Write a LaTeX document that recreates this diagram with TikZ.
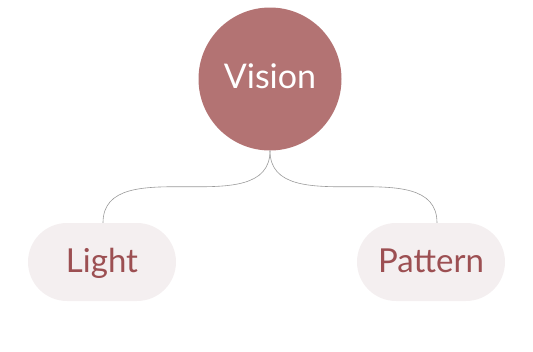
\documentclass[tikz,border=0pt]{standalone}
\usepackage{fontspec}
\setmainfont{Lato}
\usetikzlibrary{positioning, shapes.misc}

\definecolor{rosefill}{HTML}{B37373}
\definecolor{leaffill}{HTML}{F4EFF0}
\definecolor{leaftext}{HTML}{9C4F52}
\definecolor{linkgray}{HTML}{9A9A9A}

\begin{document}
\begin{tikzpicture}[
  x=1pt, y=-1pt,
  hub/.style  = {circle, fill=rosefill, minimum size=143pt, inner sep=0pt,
                 text=white, text height=24pt, text depth=6pt,
                 font=\fontsize{34}{38}\selectfont},
  leaf/.style = {rounded rectangle, fill=leaffill, minimum width=148pt,
                 minimum height=78pt, inner sep=0pt, text=leaftext,
                 text height=24pt, text depth=4pt,
                 font=\fontsize{33}{38}\selectfont},
  link/.style = {draw=linkgray, line width=0.6pt}
]
  \useasboundingbox (0,0) rectangle (533,351);

  %% Nodes
  \node[hub]  (vision)  at (270,79)  {Vision};
  \node[leaf] (light)   at (102,262) {Light};
  \node[leaf] (pattern) at (431,262) {Pattern};

  %% Links
  \path[link] (vision.south) .. controls +(0,73) and +(0,-73) .. ([xshift=1pt]light.north);
  \path[link] (vision.south) .. controls +(0,73) and +(0,-73) .. ([xshift=6pt]pattern.north);
\end{tikzpicture}
\end{document}
